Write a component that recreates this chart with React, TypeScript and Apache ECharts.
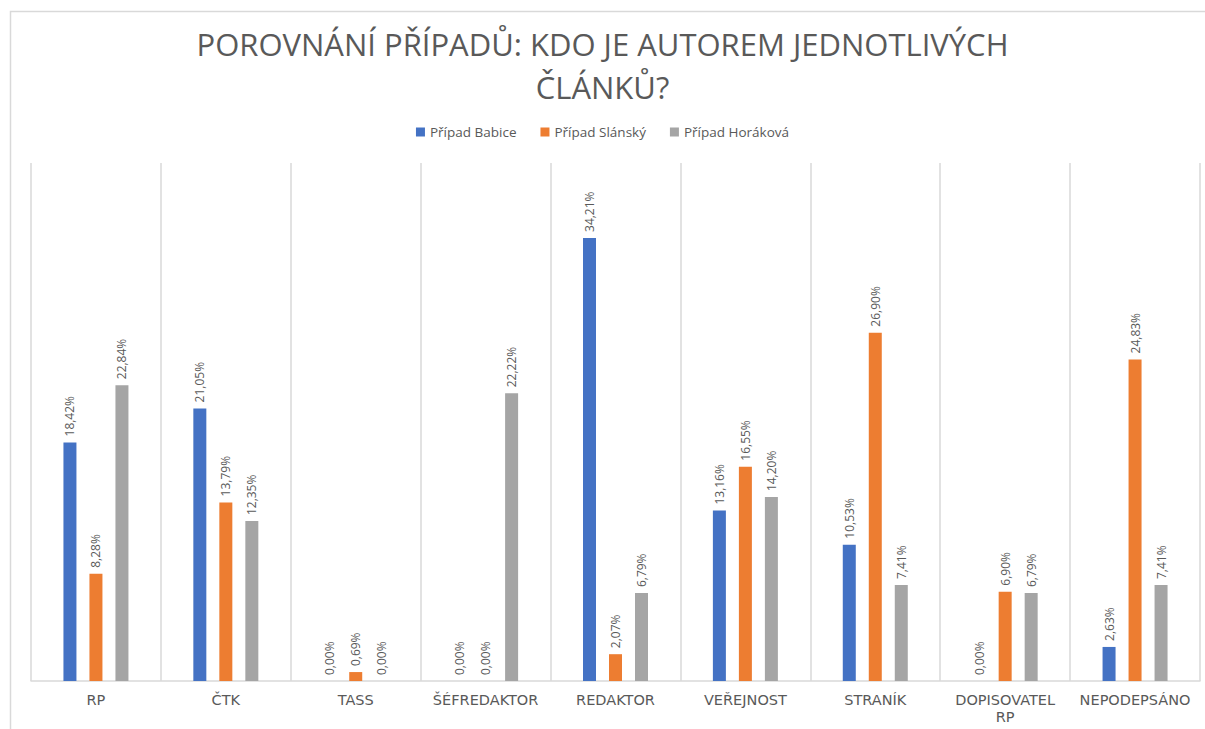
import React, { useEffect, useRef } from "react";
import * as echarts from "echarts";

const categories = ["RP", "ČTK", "TASS", "ŠÉFREDAKTOR", "REDAKTOR", "VEŘEJNOST", "STRANÍK", "DOPISOVATEL\nRP", "NEPODEPSÁNO"];
const seriesNames = ["Případ Babice", "Případ Slánský", "Případ Horáková"];
const babice = [18.42, 21.05, 0.0, 0.0, 34.21, 13.16, 10.53, 0.0, 2.63];
const slansky = [8.28, 13.79, 0.69, 0.0, 2.07, 16.55, 26.9, 6.9, 24.83];
const horakova = [22.84, 12.35, 0.0, 22.22, 6.79, 14.2, 7.41, 6.79, 7.41];
const colors = ["#4472C4", "#ED7D31", "#A5A5A5"];
const titleLine1 = "POROVNÁNÍ PŘÍPADŮ: KDO JE AUTOREM JEDNOTLIVÝCH";
const titleLine2 = "ČLÁNKŮ?";

export default function App() {
  const ref = useRef<HTMLDivElement>(null);
  useEffect(() => {
    if (!ref.current) return;
    const chart = echarts.init(ref.current, undefined, { renderer: "svg" });
    const font = "'Open Sans', sans-serif";
    const data = [babice, slansky, horakova];
    const titleStyle = {
      fontFamily: font,
      fontSize: 31,
      fontWeight: "normal",
      color: "#595959",
      lineHeight: 32,
    };
    chart.setOption({
      animation: false,
      textStyle: { fontFamily: font },
      title: [
        { text: titleLine1, left: "center", top: 23, textStyle: titleStyle },
        { text: titleLine2, left: "center", top: 66, textStyle: titleStyle },
      ],
      legend: {
        top: 120,
        left: "center",
        itemWidth: 9,
        itemHeight: 9,
        itemGap: 24,
        icon: "rect",
        textStyle: { color: "#595959", fontSize: 13.5, fontFamily: font },
        data: seriesNames,
      },
      graphic: [
        {
          type: "rect",
          shape: { x: 10.5, y: 11.5, width: 1220, height: 740 },
          style: { fill: "none", stroke: "#D9D9D9", lineWidth: 1.5 },
          silent: true,
        },
      ],
      grid: { left: 31, right: 5, top: 163, bottom: 48 },
      xAxis: {
        type: "category",
        data: categories,
        axisLine: { lineStyle: { color: "#D9D9D9", width: 1.5 } },
        axisTick: { show: false },
        splitLine: { show: true, lineStyle: { color: "#D9D9D9", width: 1.5 } },
        axisLabel: {
          color: "#595959",
          fontSize: 14.5,
          fontFamily: "'DejaVu Sans', sans-serif",
          margin: 10,
          lineHeight: 17,
          interval: 0,
        },
      },
      yAxis: {
        type: "value",
        min: 0,
        max: 40,
        show: false,
        splitLine: { show: false },
      },
      series: seriesNames.map((name, i) => ({
        name,
        type: "bar",
        data: data[i],
        barWidth: 13,
        barGap: "100%",
        itemStyle: { color: colors[i] },
        label: {
          show: true,
          position: "top",
          rotate: 90,
          align: "left",
          verticalAlign: "middle",
          distance: 6,
          color: "#595959",
          fontSize: 12,
          fontFamily: font,
          formatter: (p: any) => p.value.toFixed(2).replace(".", ",") + "%",
        },
      })),
    });
    return () => chart.dispose();
  }, []);
  return (
    <div
      ref={ref}
      style={{ position: "fixed", left: 0, top: 0, width: 1205, height: 729, background: "#fff" }}
    />
  );
}
